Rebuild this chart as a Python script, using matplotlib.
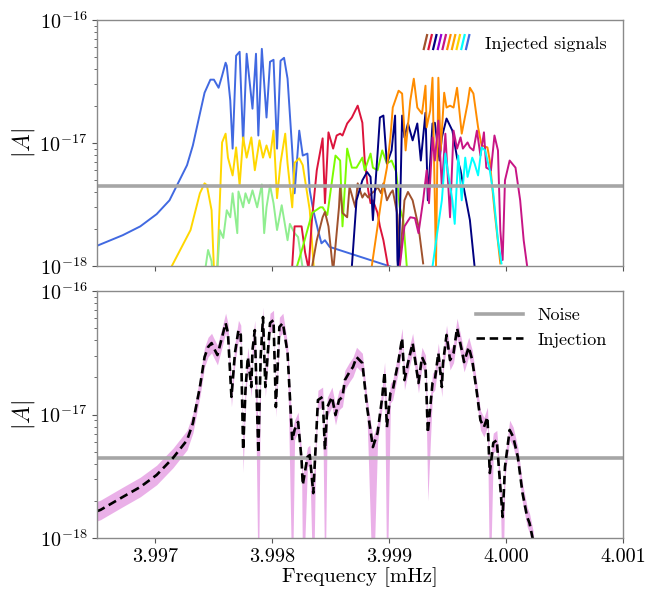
import numpy as np
import matplotlib
matplotlib.use('Agg')
import matplotlib.pyplot as plt
from matplotlib.legend_handler import HandlerBase
from matplotlib.lines import Line2D
from matplotlib.ticker import FixedLocator, FixedFormatter, NullFormatter

plt.rcParams['font.family'] = 'cmr10'
plt.rcParams['mathtext.fontset'] = 'cm'
plt.rcParams['axes.formatter.use_mathtext'] = True

UNIT = 1e-18
NOISE = 4.45e-18
XLIM = (3.9965, 4.001)
YLIM = (1e-18, 1e-16)
XTICKS = [3.997, 3.998, 3.999, 4.000, 4.001]
XTICKLABELS = ['3.997', '3.998', '3.999', '4.000', '4.001']

# ---- injected signals (frequency in mHz, amplitude in units of 1e-18) ----
F_BLUE = [3.99650, 3.99672, 3.99687, 3.99701, 3.99712, 3.99718, 3.99727, 3.99732, 3.99738, 3.99742,
          3.99747, 3.99750, 3.99754, 3.99757, 3.99760, 3.99761, 3.99764, 3.99766, 3.99769, 3.99772,
          3.99775, 3.99778, 3.99783, 3.99786, 3.99788, 3.99791, 3.99795, 3.99798, 3.99801, 3.99804,
          3.99807, 3.99810, 3.99813, 3.99817, 3.99819, 3.99823, 3.99826, 3.99830, 3.99832, 3.99835,
          3.99839, 3.99842, 3.99845, 3.99849, 3.99875, 3.99901]
A_BLUE = [1.46, 1.78, 2.1, 2.64, 3.42, 4.45, 6.6, 9.55, 17.3, 25.6,
          32.7, 32.7, 28.1, 35.2, 44.9, 42.4, 22.1, 9.0, 51.2, 55.1,
          9.9, 53.1, 19.0, 53.1, 11.5, 58.2, 16.1, 45.7, 47.4, 9.0,
          46.6, 49.2, 33.3, 8.7, 3.9, 12.6, 7.9, 8.2, 4.1, 2.84,
          1.96, 1.53, 1.62, 1.43, 1.19, 0.99]

F_GOLD = [3.99708, 3.99714, 3.99730, 3.99738, 3.99742, 3.99744, 3.99748, 3.99750, 3.99752, 3.99757,
          3.99760, 3.99762, 3.99766, 3.99769, 3.99772, 3.99775, 3.99778, 3.99782, 3.99785, 3.99789,
          3.99792, 3.99795, 3.99798, 3.99801, 3.99804, 3.99807, 3.99811, 3.99813, 3.99817, 3.99819,
          3.99823, 3.99826, 3.99832, 3.99835, 3.99836]
A_GOLD = [0.6, 1.0, 1.96, 3.9, 4.7, 4.53, 2.84, 0.95, 0.6, 10.1,
          11.9, 7.6, 5.45, 9.2, 4.53, 11.1, 7.6, 11.1, 6.0, 10.5,
          7.6, 9.55, 7.6, 12.6, 3.56, 6.9, 11.9, 6.8, 3.0, 6.9,
          7.5, 6.6, 2.84, 1.12, 0.8]

F_PALE = [3.99741, 3.99743, 3.99745, 3.99748, 3.99749, 3.99753, 3.99755, 3.99758, 3.99761, 3.99764,
          3.99766, 3.99770, 3.99771, 3.99775, 3.99777, 3.99780, 3.99783, 3.99787, 3.99791, 3.99793,
          3.99795, 3.99798, 3.99801, 3.99804, 3.99808, 3.99813, 3.99815, 3.99819, 3.99822, 3.99826]
A_PALE = [0.6, 1.0, 1.35, 1.09, 0.8, 0.95, 1.96, 1.69, 2.84, 2.49,
          3.9, 1.85, 4.03, 3.0, 3.9, 3.24, 4.12, 3.0, 4.6, 1.85,
          3.0, 4.53, 3.24, 1.96, 3.12, 1.62, 2.2, 1.85, 1.72, 0.95]

F_RED = [3.99815, 3.99817, 3.99819, 3.99825, 3.99828, 3.99831, 3.99834, 3.99838, 3.99843, 3.99845,
         3.99848, 3.99852, 3.99855, 3.99858, 3.99860, 3.99864, 3.99868, 3.99873, 3.99877, 3.99879,
         3.99882, 3.99884, 3.99886, 3.99890, 3.99892, 3.99895, 3.99899]
A_RED = [0.8, 1.0, 2.1, 2.1, 1.29, 0.95, 2.49, 6.0, 10.9, 3.24,
         12.2, 9.0, 11.5, 11.9, 11.5, 14.4, 16.1, 20.1, 14.6, 7.2,
         4.12, 3.24, 3.42, 2.7, 2.1, 1.62, 0.99]

F_LAWN = [3.99821, 3.99826, 3.99834, 3.99841, 3.99843, 3.99847, 3.99854, 3.99858, 3.99860, 3.99864,
          3.99868, 3.99872, 3.99877, 3.99879, 3.99884, 3.99886, 3.99890, 3.99894, 3.99898, 3.99902,
          3.99906, 3.99909, 3.99912, 3.99915]
A_LAWN = [0.99, 1.43, 2.7, 3.0, 3.0, 2.6, 7.9, 7.2, 2.1, 9.0,
          6.3, 6.3, 7.6, 6.0, 8.2, 6.3, 6.0, 8.7, 6.8, 7.2,
          5.8, 3.0, 2.36, 0.99]

F_BROWN = [3.99834, 3.99838, 3.99843, 3.99845, 3.99848, 3.99852, 3.99857, 3.99858, 3.99860, 3.99864,
           3.99866, 3.99871, 3.99873, 3.99877, 3.99879, 3.99882, 3.99885, 3.99888, 3.99890, 3.99893,
           3.99895, 3.99898, 3.99901, 3.99903, 3.99907, 3.99909, 3.99913, 3.99916, 3.99920, 3.99925,
           3.99929]
A_BROWN = [0.99, 1.62, 2.49, 2.75, 2.1, 0.9, 3.0, 4.53, 2.7, 2.49,
           4.4, 3.0, 4.7, 3.6, 3.9, 3.6, 3.9, 4.12, 4.4, 3.9,
           4.7, 3.42, 3.9, 4.12, 2.6, 1.05, 3.42, 4.0, 3.42, 2.1,
           1.05]

F_NAVY = [3.99868, 3.99872, 3.99877, 3.99881, 3.99884, 3.99886, 3.99890, 3.99892, 3.99895, 3.99898,
          3.99902, 3.99905, 3.99907, 3.99908, 3.99911, 3.99913, 3.99916, 3.99920, 3.99924, 3.99927,
          3.99931, 3.99933, 3.99937, 3.99939, 3.99943, 3.99945, 3.99949, 3.99954, 3.99958, 3.99961,
          3.99963, 3.99969, 3.99973]
A_NAVY = [0.99, 3.42, 4.97, 5.8, 5.3, 2.36, 8.2, 16.1, 16.7, 6.8,
          8.7, 16.7, 1.12, 0.8, 16.7, 11.1, 14.4, 10.5, 14.4, 7.2,
          17.6, 3.42, 14.4, 14.6, 7.2, 11.1, 15.8, 12.6, 7.6, 6.0,
          4.7, 2.36, 0.99]

F_ORANGE = [3.99885, 3.99890, 3.99894, 3.99898, 3.99901, 3.99903, 3.99908, 3.99911, 3.99914, 3.99918,
            3.99921, 3.99924, 3.99928, 3.99931, 3.99932, 3.99935, 3.99937, 3.99939, 3.99940, 3.99942,
            3.99944, 3.99947, 3.99949, 3.99952, 3.99955, 3.99958, 3.99962, 3.99967, 3.99969, 3.99972,
            3.99976, 3.99979, 3.99984, 3.99986, 3.99990, 3.99995]
A_ORANGE = [0.99, 2.1, 3.9, 6.3, 11.1, 19.4, 26.6, 25.2, 8.7, 22.1,
            33.3, 19.4, 17.3, 29.2, 13.4, 18.3, 33.9, 3.42, 0.99, 33.9,
            8.7, 25.6, 19.4, 20.1, 19.4, 28.1, 11.9, 20.9, 28.1, 25.2,
            13.4, 9.55, 9.2, 7.2, 2.84, 1.05]

F_MAGENTA = [3.99909, 3.99913, 3.99918, 3.99922, 3.99925, 3.99929, 3.99932, 3.99934, 3.99937, 3.99939,
             3.99942, 3.99945, 3.99948, 3.99952, 3.99955, 3.99958, 3.99961, 3.99963, 3.99967, 3.99969,
             3.99972, 3.99975, 3.99978, 3.99981, 3.99983, 3.99987, 3.99990, 3.99993, 3.99995, 3.99997,
             3.99999, 4.00003, 4.00008, 4.00012, 4.00015, 4.00018]
A_MAGENTA = [0.99, 2.1, 2.49, 2.45, 1.85, 3.42, 6.0, 3.24, 11.1, 7.2,
             15.2, 4.4, 11.9, 2.49, 12.6, 9.0, 11.1, 9.0, 10.1, 9.2,
             8.7, 12.6, 7.9, 12.2, 6.3, 6.0, 11.5, 8.7, 1.96, 1.12,
             4.97, 7.2, 6.3, 3.42, 1.62, 0.99]

F_CYAN = [3.99937, 3.99941, 3.99945, 3.99948, 3.99950, 3.99954, 3.99956, 3.99959, 3.99962, 3.99965,
          3.99967, 3.99971, 3.99973, 3.99976, 3.99979, 3.99982, 3.99986, 3.99989, 3.99993, 3.99996]
A_CYAN = [0.99, 1.85, 3.42, 8.2, 6.0, 3.42, 2.2, 7.9, 3.42, 7.6,
          5.3, 7.6, 6.8, 5.45, 9.2, 8.7, 6.0, 3.9, 1.62, 1.05]

SIGNALS = [
    (F_BLUE, A_BLUE, 'royalblue'),
    (F_GOLD, A_GOLD, 'gold'),
    (F_PALE, A_PALE, 'lightgreen'),
    (F_RED, A_RED, 'crimson'),
    (F_LAWN, A_LAWN, 'lawngreen'),
    (F_BROWN, A_BROWN, 'sienna'),
    (F_NAVY, A_NAVY, 'navy'),
    (F_ORANGE, A_ORANGE, 'darkorange'),
    (F_MAGENTA, A_MAGENTA, 'mediumvioletred'),
    (F_CYAN, A_CYAN, 'cyan'),
]
LEGEND_COLORS = ['sienna', 'crimson', 'navy', 'darkviolet', 'mediumvioletred',
                 'darkorange', 'orange', 'gold', 'cyan', 'royalblue']

# ---- injection (sum) ----
F_INJ = [3.99650, 3.99653, 3.99672, 3.99687, 3.99701, 3.99715, 3.99727, 3.99732, 3.99738, 3.99742,
         3.99745, 3.99748, 3.99750, 3.99753, 3.99757, 3.99760, 3.99762, 3.99765, 3.99768, 3.99771,
         3.99773, 3.99775, 3.99777, 3.99779, 3.99782, 3.99783, 3.99785, 3.99788, 3.99790, 3.99792,
         3.99794, 3.99798, 3.99801, 3.99803, 3.99806, 3.99809, 3.99813, 3.99817, 3.99819, 3.99822,
         3.99825, 3.99826, 3.99830, 3.99832, 3.99835, 3.99837, 3.99839, 3.99843, 3.99845, 3.99847,
         3.99851, 3.99854, 3.99857, 3.99860, 3.99862, 3.99866, 3.99869, 3.99872, 3.99877, 3.99881,
         3.99886, 3.99890, 3.99894, 3.99896, 3.99898, 3.99901, 3.99903, 3.99908, 3.99911, 3.99913,
         3.99916, 3.99920, 3.99925, 3.99928, 3.99931, 3.99933, 3.99937, 3.99939, 3.99942, 3.99945,
         3.99946, 3.99949, 3.99952, 3.99955, 3.99958, 3.99962, 3.99964, 3.99968, 3.99971, 3.99975,
         3.99978, 3.99981, 3.99984, 3.99986, 3.99989, 3.99992, 3.99995, 3.99997, 3.99999, 4.00003,
         4.00006, 4.00010, 4.00014, 4.00018, 4.00020, 4.00023, 4.00026]
A_INJ = [1.65, 1.69, 2.15, 2.59, 3.24, 4.45, 6.2, 8.5, 16.7, 29.2,
         35.2, 37.9, 34.5, 30.3, 42.4, 55.1, 45.7, 13.9, 31.5, 48.3,
         44.1, 5.16, 15.8, 29.2, 16.7, 33.3, 48.3, 4.88, 29.2, 61.6,
         16.7, 55.1, 58.2, 11.5, 51.2, 55.1, 31.5, 6.2, 7.5, 8.7,
         4.28, 2.69, 4.53, 4.7, 2.31, 5.45, 13.1, 13.9, 5.16, 11.5,
         13.9, 9.9, 13.1, 13.9, 19.0, 22.1, 24.3, 29.2, 26.1, 11.5,
         5.45, 7.1, 13.9, 22.1, 7.9, 14.9, 15.8, 27.6, 41.6, 19.0,
         26.1, 37.9, 18.0, 29.2, 25.2, 7.1, 18.0, 19.0, 31.5, 16.7,
         26.1, 44.1, 27.6, 31.5, 50.1, 33.3, 26.6, 35.2, 27.6, 14.9,
         9.0, 7.9, 9.55, 3.36, 5.9, 6.2, 2.59, 1.48, 3.76, 7.5,
         6.6, 4.53, 2.31, 1.48, 1.32, 0.96, 0.5]
BAND_FACTOR = 1.2          # estimated width of the shaded interval
BAND_DIPS = [3.99775, 3.99788, 3.99817, 3.99826, 3.99835, 3.99845,
             3.99886, 3.99898, 3.99933, 3.99986, 3.99997]
BAND_DIP_FLOOR = [3.4, 0.3, 0.3, 0.3, 0.3, 0.3, 0.3, 0.3, 2.0, 0.3, 0.3]


class MultiColorHandler(HandlerBase):
    def __init__(self, colors):
        super().__init__()
        self.colors = colors

    def create_artists(self, legend, orig_handle, xdescent, ydescent,
                       width, height, fontsize, trans):
        arts = []
        n = len(self.colors)
        step = width / n
        for i, c in enumerate(self.colors):
            x0 = -xdescent + i * step
            ln = Line2D([x0, x0 + step * 0.7], [-ydescent, -ydescent + height * 1.1],
                        color=c, lw=1.6, transform=trans)
            arts.append(ln)
        return arts


fig = plt.figure(figsize=(6.6, 5.93), dpi=100)
ax1 = fig.add_axes([0.147, 0.5514, 0.797, 0.4150])
ax2 = fig.add_axes([0.147, 0.0927, 0.797, 0.4165])

for F, A, c in SIGNALS:
    ax1.plot(F, np.array(A) * UNIT, color=c, lw=1.4)
ax1.axhline(NOISE, color='#a6a6a6', lw=2.6)

f_inj = np.array(F_INJ)
a_inj = np.array(A_INJ) * UNIT
lower = a_inj / BAND_FACTOR
upper = a_inj * BAND_FACTOR
for fd, fl in zip(BAND_DIPS, BAND_DIP_FLOOR):
    i = int(np.argmin(np.abs(f_inj - fd)))
    lower[i] = min(lower[i], fl * UNIT)
ax2.fill_between(f_inj, lower, upper, color='orchid', alpha=0.55, lw=0)
ax2.axhline(NOISE, color='#a6a6a6', lw=2.6, label='Noise')
ax2.plot(f_inj, a_inj, color='black', ls=(0, (3.2, 1.8)), lw=1.9, label='Injection')

for ax in (ax1, ax2):
    ax.set_yscale('log')
    ax.set_xlim(*XLIM)
    ax.set_ylim(*YLIM)
    ax.xaxis.set_major_locator(FixedLocator(XTICKS))
    ax.yaxis.set_minor_formatter(NullFormatter())
    ax.set_ylabel(r'$|A|$', fontsize=17, labelpad=2)
    ax.tick_params(axis='both', which='major', labelsize=14.5, color='#555555')
    ax.tick_params(axis='both', which='minor', color='#555555')
    for s in ax.spines.values():
        s.set_color('#8a8a8a')
        s.set_linewidth(1.0)

ax1.xaxis.set_major_formatter(NullFormatter())
ax2.xaxis.set_major_formatter(FixedFormatter(XTICKLABELS))
ax2.set_xlabel('Frequency [mHz]', fontsize=15, labelpad=1)

proxy = Line2D([], [])
ax1.legend([proxy], ['Injected signals'], handler_map={proxy: MultiColorHandler(LEGEND_COLORS)},
           loc='upper right', frameon=False, fontsize=13, handlelength=2.6)
ax2.legend(loc='upper right', frameon=False, fontsize=13, handlelength=2.6)

fig.savefig('out.png', dpi=100)
